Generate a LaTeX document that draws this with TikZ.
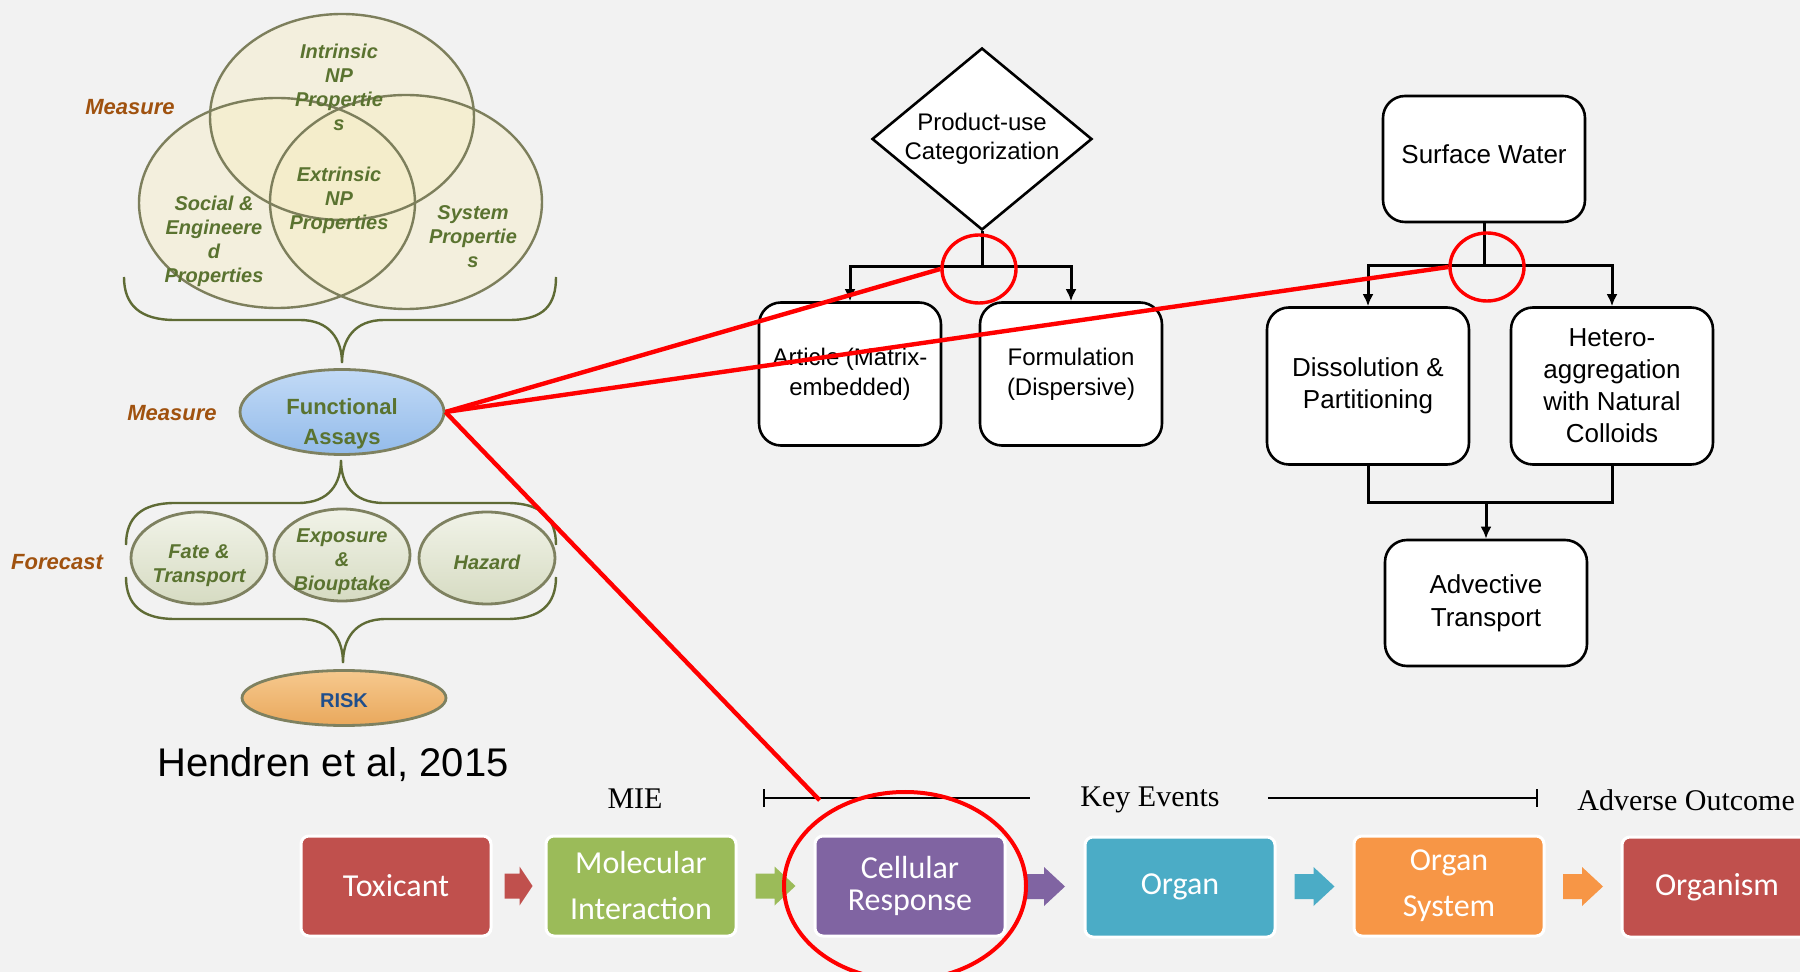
\documentclass[tikz,border=0pt]{standalone}
\usepackage{fontspec}
\setmainfont{Liberation Sans}
\newfontfamily\timesfont{Liberation Serif}
\newfontfamily\calibrifont{Carlito}
\usepackage{xcolor}
\usepackage{tikz}
\usetikzlibrary{shapes,positioning}
\usetikzlibrary{calc}
\usetikzlibrary{arrows,arrows.meta}

\definecolor{bggray}{HTML}{F2F2F2}
\definecolor{labbrown}{HTML}{A0520F}
\definecolor{olivetext}{HTML}{5A7330}
\definecolor{braceline}{HTML}{5F6B35}
\definecolor{vennfill}{HTML}{F6EDC4}
\definecolor{vennline}{HTML}{7D7F5C}
\definecolor{pillline}{HTML}{7E8160}
\definecolor{fcTop}{HTML}{F1F3E8}
\definecolor{fcBot}{HTML}{D6DBC2}
\definecolor{faTop}{HTML}{C2DAF6}
\definecolor{faBot}{HTML}{93BBEA}
\definecolor{riskTop}{HTML}{F6C98E}
\definecolor{riskBot}{HTML}{E9A85C}
\definecolor{riskblue}{HTML}{1F4E8C}
\definecolor{toxred}{HTML}{C0504D}
\definecolor{molgreen}{HTML}{9BBB59}
\definecolor{cellpurple}{HTML}{8064A2}
\definecolor{organteal}{HTML}{4BACC6}
\definecolor{sysorange}{HTML}{F79646}

\tikzset{
	lab/.style={font=\fontsize{11}{13}\selectfont\bfseries\itshape,text=labbrown},
	venntext/.style={font=\fontsize{10}{12}\selectfont\bfseries\itshape,text=olivetext,align=center},
	pill/.style={ellipse,draw=pillline,line width=1.4pt,inner sep=0pt,align=center},
	forecast/.style={pill,minimum width=68pt,minimum height=46pt,top color=fcTop,bottom color=fcBot},
	fctext/.style={font=\fontsize{10}{12}\selectfont\bfseries\itshape,text=olivetext,align=center},
	brace/.style={draw=braceline,line width=1.2pt},
	decision/.style={diamond,draw,line width=1.3pt,fill=white,minimum width=110pt,minimum height=91pt,inner sep=0pt},
	box/.style={draw,rounded corners=11pt,line width=1.3pt,fill=white,align=center,inner sep=0pt},
	flow/.style={line width=1.5pt,-{Latex[length=6pt,width=5.5pt]}},
	event/.style={font=\timesfont\fontsize{15}{18}\selectfont,inner sep=0pt},
	aopbox/.style={draw=white,line width=1.5pt,rounded corners=4pt,minimum width=95pt,minimum height=50pt,inner sep=0pt,align=center,text=white},
	hilite/.style={ellipse,draw=red,line width=1.7pt,inner sep=0pt},
	link/.style={draw=red,line width=2.2pt}
}

\begin{document}
\begin{tikzpicture}[x=0.5pt,y=-0.5pt]
\useasboundingbox (0,0) rectangle (1800,972);
\fill[bggray] (0,0) rectangle (1800,972);
\clip (0,0) rectangle (1800,972); % page edge cuts the last box

%Venn des proprietes
\fill[vennfill,fill opacity=0.45] (342,117) ellipse [x radius=66pt,y radius=51.5pt];
\fill[vennfill,fill opacity=0.45] (277,203) ellipse [x radius=69pt,y radius=52.5pt];
\fill[vennfill,fill opacity=0.45] (406,202) ellipse [x radius=68pt,y radius=53.5pt];
\draw[vennline,line width=1.2pt] (342,117) ellipse [x radius=66pt,y radius=51.5pt];
\draw[vennline,line width=1.2pt] (277,203) ellipse [x radius=69pt,y radius=52.5pt];
\draw[vennline,line width=1.2pt] (406,202) ellipse [x radius=68pt,y radius=53.5pt];

\node[venntext] (intr) at (339,87) {Intrinsic\\NP\\Propertie\\s};
\node[venntext] (extr) at (339,200) {Extrinsic\\NP\\Properties};
\node[venntext] (soc) at (214,241) {Social \&\\Engineere\\d\\Properties};
\node[venntext] (sys) at (473,237) {System\\Propertie\\s};

%Etiquettes
\node[lab] (meas1) at (130,107) {Measure};
\node[lab] (meas2) at (172,413) {Measure};
\node[lab] (fore) at (57,562) {Forecast};

%Accolades
\draw[brace] (124,277) .. controls (124,305) and (140,320) .. (175,320) -- (300,320)
	.. controls (330,320) and (342,340) .. (342,363) .. controls (342,340) and (354,320) .. (384,320)
	-- (509,320) .. controls (544,320) and (556,305) .. (556,277);
\draw[brace] (126,545) .. controls (126,517) and (142,503) .. (175,503) -- (298,503)
	.. controls (330,503) and (341,483) .. (341,460) .. controls (341,483) and (352,503) .. (384,503)
	-- (507,503) .. controls (540,503) and (556,517) .. (556,545);
\draw[brace] (126,577) .. controls (126,605) and (142,619) .. (175,619) -- (300,619)
	.. controls (332,619) and (343,640) .. (343,663) .. controls (343,640) and (354,619) .. (386,619)
	-- (507,619) .. controls (540,619) and (556,605) .. (556,577);

%Ellipses
\node[pill,minimum width=102pt,minimum height=42.5pt,top color=faTop,bottom color=faBot] (fa) at (342,412) {};
\node[font=\fontsize{11}{15}\selectfont\bfseries,text=olivetext,align=center] (fatxt) at ($(fa)+(0,12)$) {Functional\\Assays};
\node[forecast] (fate) at (199,558) {};
\node[forecast] (expo) at (342,555) {};
\node[forecast] (haz) at (487,558) {};
\node[fctext] at ($(fate)+(0,8)$) {Fate \&\\Transport};
\node[fctext] at ($(expo)+(0,7)$) {Exposure\\\&\\Biouptake};
\node[fctext] at ($(haz)+(0,4)$) {Hazard};
\node[pill,minimum width=102pt,minimum height=27.5pt,top color=riskTop,bottom color=riskBot] (risk) at (344,698) {};
\node[font=\fontsize{10}{12}\selectfont\bfseries,text=riskblue] at ($(risk)+(0,3)$) {RISK};

\node[font=\fontsize{20}{24}\selectfont] (ref) at (333,765) {Hendren et al, 2015};

%Arbre produit
\node[decision] (prod) at (982,139) {};
\node[align=center,font=\fontsize{12}{14.5}\selectfont] (prodtxt) at (prod.center) {Product-use\\Categorization};
\node[box,minimum width=91pt,minimum height=71.5pt,font=\fontsize{12}{15}\selectfont] (art) at (850,374) {Article (Matrix-\\embedded)};
\node[box,minimum width=91pt,minimum height=71.5pt,font=\fontsize{12}{15}\selectfont] (form) at (1071,374) {Formulation\\(Dispersive)};
\coordinate (jp) at (982,267);
\draw[line width=1.5pt] (prod.south) -- (jp);
\draw[flow] (jp) -| (art.north);
\draw[flow] (jp) -| (form.north);

%Arbre eau de surface
\node[box,minimum width=101pt,minimum height=63pt,font=\fontsize{13}{16}\selectfont] (sw) at (1484,159) {};
\node[font=\fontsize{13}{16}\selectfont] (swtxt) at ($(sw)+(0,-5)$) {Surface Water};
\node[box,minimum width=101pt,minimum height=78.5pt,font=\fontsize{13}{16}\selectfont] (dis) at (1368,386) {Dissolution \&\\Partitioning};
\node[box,minimum width=101pt,minimum height=78.5pt,font=\fontsize{13}{16}\selectfont] (het) at (1612,386) {Hetero-\\aggregation\\with Natural\\Colloids};
\node[box,minimum width=101pt,minimum height=63pt,font=\fontsize{13}{16.5}\selectfont] (adv) at (1486,603) {Advective\\Transport};
\coordinate (js) at (1484,266);
\coordinate (jm) at (1486,503);
\draw[line width=1.5pt] (sw.south) -- (js);
\draw[flow] (js) -| (dis.north);
\draw[flow] (js) -| (het.north);
\draw[line width=1.5pt] (dis.south) |- (jm) -| (het.south);
\draw[flow] (jm) -- (adv.north);

%Chaine AOP
\node[event] (mie) at (635,799) {MIE};
\node[event] (ke) at (1150,800) {Key Events};
\node[event,anchor=west] (ao) at (1577,800) {Adverse Outcome};
\coordinate (kl) at (763,798);
\coordinate (kr) at (1538,798);
\draw[line width=0.8pt,{Bar[width=9pt]}-] (kl) -- ([xshift=-25pt]kl -| ke.west);
\draw[line width=0.8pt,-{Bar[width=9pt]}] ([xshift=24pt]kr -| ke.east) -- (kr);

\node[aopbox,fill=toxred,font=\calibrifont\fontsize{16}{23}\selectfont] (tox) at (396,886) {Toxicant};
\node[aopbox,fill=molgreen,font=\calibrifont\fontsize{16}{23}\selectfont] (mol) at (641,886) {Molecular\\Interaction};
\node[aopbox,fill=cellpurple,font=\calibrifont\fontsize{16}{16}\selectfont] (cell) at (910,886) {Cellular\\Response};
\node[aopbox,fill=organteal,font=\calibrifont\fontsize{16}{23}\selectfont] (org) at (1180,887) {Organ};
\node[aopbox,fill=sysorange,font=\calibrifont\fontsize{16}{23}\selectfont] (osys) at (1449,886) {Organ\\System};
\node[aopbox,fill=toxred,font=\calibrifont\fontsize{16}{23}\selectfont] (orgm) at (1717,887) {Organism};

\def\blockarrow#1#2#3#4{% mid, colour, stem, head
	\fill[#2] ($(#1)+(-#3/2-#4/2,-12.5)$) -- ++(#3,0) -- ++(0,-7) -- ++(#4,19.5) -- ++(-#4,19.5) -- ++(0,-7) -- ++(-#3,0) -- cycle;}
\coordinate (a1) at ($(tox.east)!0.5!(mol.west)$);
\coordinate (a2) at ($(mol.east)!0.5!(cell.west)$);
\coordinate (a3) at ($(cell.east)!0.5!(org.west)$);
\coordinate (a4) at ($(org.east)!0.5!(osys.west)$);
\coordinate (a5) at ($(osys.east)!0.5!(orgm.west)$);
\blockarrow{a1}{toxred}{15}{13}
\blockarrow{a2}{molgreen}{19}{21}
\blockarrow{a3}{cellpurple}{19}{21}
\blockarrow{a4}{organteal}{19}{21}
\blockarrow{a5}{sysorange}{19}{21}

%Cercles rouges et liens
\node[hilite,minimum width=37pt,minimum height=34pt] (c1) at (979,269) {};
\node[hilite,minimum width=37pt,minimum height=34pt] (c2) at (1487,267) {};
\node[hilite,minimum width=121pt,minimum height=94pt,line width=2pt] (c3) at (905,886) {};
\draw[link] (fa.east) -- (c1.west);
\draw[link] (fa.east) -- (c2.west);
\draw[link,shorten >=7pt] (fa.east) -- (c3.135);
\end{tikzpicture}
\end{document}
